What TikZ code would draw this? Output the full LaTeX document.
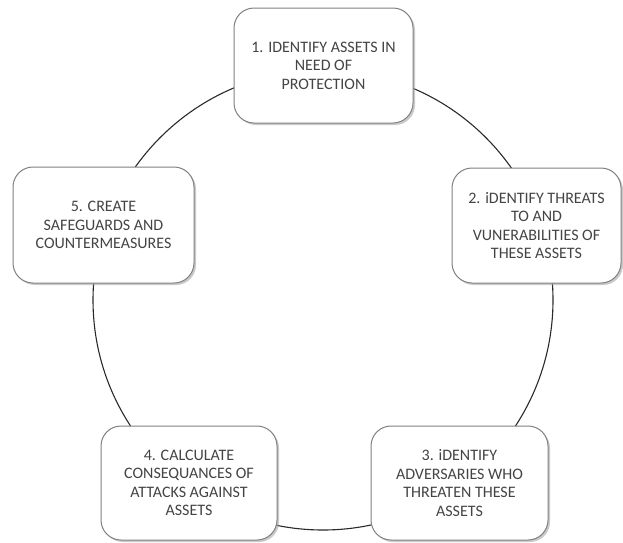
\documentclass[tikz,border=0pt]{standalone}
\usepackage{fontspec}
\setmainfont{Carlito}
\usetikzlibrary{shadows}
\definecolor{txt}{HTML}{444444}
\definecolor{edge}{HTML}{808080}
\definecolor{ring}{HTML}{2A2A2A}
\begin{document}
\begin{tikzpicture}[x=1pt,y=-1pt,
  stepbox/.style={draw=edge, line width=1pt, fill=white, rounded corners=20pt,
    align=center, font=\fontsize{16}{18.5}\selectfont, text=txt, inner sep=0pt,
    drop shadow={shadow xshift=2pt, shadow yshift=-2pt, fill=black!35, opacity=0.6}},
  ringline/.style={draw=ring, line width=1.1pt}]
\useasboundingbox (0,0) rectangle (623,542);
\coordinate (c) at (323,300);
\draw[ringline] (c) circle (230);
\node[stepbox, minimum width=179pt, minimum height=115pt] (s1) at (323.5,65.5)
  {1. IDENTIFY ASSETS IN\\NEED OF\\PROTECTION};
\node[stepbox, minimum width=169pt, minimum height=115pt] (s2) at (536.5,225.5)
  {2. iDENTIFY THREATS\\TO AND\\VUNERABILITIES OF\\THESE ASSETS};
\node[stepbox, minimum width=177pt, minimum height=114pt] (s3) at (459.5,483)
  {3. iDENTIFY\\ADVERSARIES WHO\\THREATEN THESE\\ASSETS};
\node[stepbox, minimum width=176pt, minimum height=114pt] (s4) at (189,483)
  {4. CALCULATE\\CONSEQUANCES OF\\ATTACKS AGAINST\\ASSETS};
\node[stepbox, minimum width=181pt, minimum height=116pt] (s5) at (103.5,225)
  {5. CREATE\\SAFEGUARDS AND\\COUNTERMEASURES};
\end{tikzpicture}
\end{document}
